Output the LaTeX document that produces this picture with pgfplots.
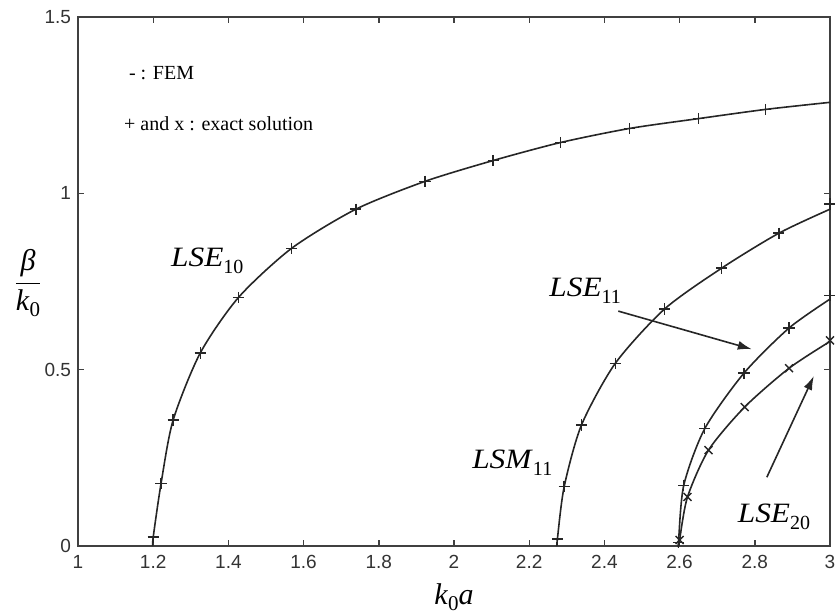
\documentclass[border=0pt]{standalone}
\usepackage{fontspec}
\setmainfont{Liberation Serif}
\setsansfont{Liberation Sans}
\usepackage{graphicx}
\usepackage{pgfplots}
\pgfplotsset{compat=1.18}
\usetikzlibrary{arrows.meta}
\newcommand{\lab}[2]{\fontsize{14}{16}\selectfont\scalebox{1.12}[1]{\textit{#1}}\raisebox{-3.5pt}{\fontsize{10}{10}\selectfont #2}}
\begin{document}
\begin{tikzpicture}
\useasboundingbox (-39pt,-34.5pt) rectangle (378.5pt,273pt);
\begin{axis}[
  scale only axis, width=376pt, height=264.5pt,
  xmin=1, xmax=3, ymin=0, ymax=1.5,
  xtick={1,1.2,1.4,1.6,1.8,2,2.2,2.4,2.6,2.8,3},
  ytick={0,0.5,1,1.5},
  xticklabels={1,1.2,1.4,1.6,1.8,2,2.2,2.4,2.6,2.8,3},
  yticklabels={0,0.5,1,1.5},
  tick align=inside, major tick length=3pt,
  ticklabel style={font=\sffamily\fontsize{9.5}{11}\selectfont, text=black!80},
  xticklabel style={yshift=-1pt},
  axis line style={line width=0.9pt, black!75},
  tick style={line width=0.7pt, black!75},
  clip=false,
]
% FEM lines
\addplot[black!85, line width=0.8pt, smooth, tension=0.45] coordinates {
 (1.199,0) (1.200,0.025) (1.221,0.178) (1.253,0.357) (1.325,0.547) (1.427,0.705)
 (1.568,0.844) (1.739,0.955) (1.923,1.034) (2.104,1.093) (2.283,1.144)
 (2.467,1.184) (2.651,1.212) (2.829,1.238) (3.000,1.258)};
\addplot[black!85, line width=0.8pt, smooth, tension=0.45] coordinates {
 (2.274,0) (2.275,0.02) (2.293,0.168) (2.339,0.343) (2.429,0.518) (2.560,0.672)
 (2.712,0.788) (2.864,0.887) (3.000,0.955)};
\addplot[black!85, line width=0.8pt, smooth, tension=0.45] coordinates {
 (2.596,0) (2.597,0.01) (2.611,0.172) (2.667,0.333) (2.771,0.490) (2.891,0.618) (3.000,0.700)};
\addplot[black!85, line width=0.8pt, smooth, tension=0.45] coordinates {
 (2.599,0) (2.600,0.017) (2.621,0.139) (2.677,0.272) (2.773,0.394) (2.891,0.504) (3.000,0.580)};
% exact markers
\addplot[only marks, mark=+, mark size=2.8pt, black!85, line width=0.7pt] coordinates {
 (1.200,0.025) (1.221,0.178) (1.253,0.357) (1.325,0.547) (1.427,0.705)
 (1.568,0.844) (1.739,0.955) (1.923,1.034) (2.104,1.093) (2.283,1.144)
 (2.467,1.184) (2.651,1.212) (2.829,1.238)};
\addplot[only marks, mark=+, mark size=2.8pt, black!85, line width=0.7pt] coordinates {
 (2.275,0.02) (2.293,0.168) (2.339,0.343) (2.429,0.518) (2.560,0.672)
 (2.712,0.788) (2.864,0.887) (3.000,0.970)};
\addplot[only marks, mark=+, mark size=2.8pt, black!85, line width=0.7pt] coordinates {
 (2.597,0.01) (2.611,0.172) (2.667,0.333) (2.771,0.490) (2.891,0.618) (3.000,0.710)};
\addplot[only marks, mark=x, mark size=2.8pt, black!85, line width=0.7pt] coordinates {
 (2.600,0.017) (2.621,0.139) (2.677,0.272) (2.773,0.394) (2.891,0.504) (3.000,0.583)};
% annotations
\node[anchor=west, font=\fontsize{10}{12}\selectfont] at (axis cs:1.117,1.34) {- : FEM};
\node[anchor=west, font=\fontsize{10}{12}\selectfont] at (axis cs:1.104,1.198) {+ and x : exact solution};
\node at (axis cs:1.344,0.81) {\lab{LSE}{10}};
\node at (axis cs:2.349,0.725) {\lab{LSE}{11}};
\node at (axis cs:2.155,0.235) {\lab{LSM}{11}};
\node at (axis cs:2.851,0.082) {\lab{LSE}{20}};
\draw[black!85, line width=0.8pt, -{Latex[length=7pt,width=4.5pt]}] (axis cs:2.437,0.666) -- (axis cs:2.792,0.558);
\draw[black!85, line width=0.8pt, -{Latex[length=7pt,width=4.5pt]}] (axis cs:2.832,0.195) -- (axis cs:2.957,0.482);
\node at ([xshift=-25pt]axis description cs:0,0.497) {\fontsize{15}{17}\selectfont$\displaystyle\frac{\mbox{\textit{β}}}{\mbox{\textit{k}\raisebox{-0.45ex}{\fontsize{10.5}{10}\selectfont 0}}}$};
\node at ([yshift=-25.5pt]axis description cs:0.5,0) {\fontsize{15}{17}\selectfont\textit{k}\raisebox{-0.45ex}{\fontsize{10.5}{10}\selectfont 0}\textit{a}};
\end{axis}
\end{tikzpicture}
\end{document}
